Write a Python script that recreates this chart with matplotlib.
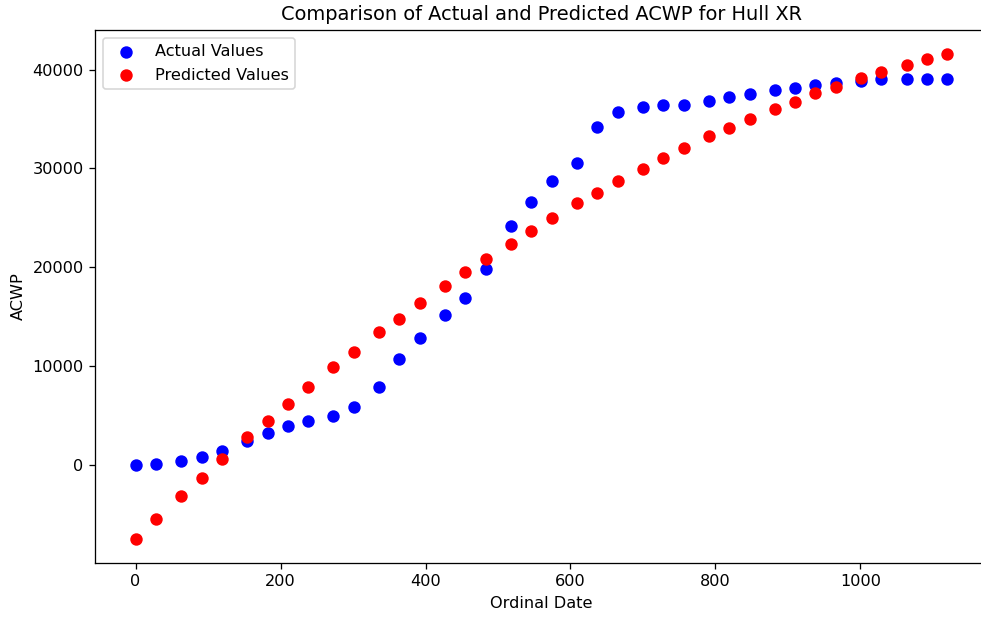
import numpy as np
import matplotlib
matplotlib.use("Agg")
import matplotlib.pyplot as plt

# ordinal dates (days from start)
dates = [0, 28, 63, 91, 119, 154, 182, 210, 238, 273, 301, 336, 364, 392, 427, 455,
         483, 518, 546, 574, 609, 637, 665, 700, 728, 756, 791, 819, 847, 882, 910,
         938, 966, 1001, 1029, 1064, 1092, 1120]

actual = [0, 100, 345, 780, 1390, 2400, 3240, 3920, 4390, 4960, 5810, 7900, 10730,
          12800, 15130, 16880, 19820, 24140, 26600, 28730, 30590, 34170, 35690, 36190,
          36430, 36430, 36860, 37240, 37510, 37910, 38150, 38450, 38680, 38830, 39060,
          39060, 39060, 39060]

predicted = [-7520, -5530, -3200, -1350, 550, 2770, 4390, 6150, 7840, 9920, 11410,
             13410, 14780, 16340, 18070, 19480, 20800, 22380, 23670, 24980, 26470,
             27510, 28700, 29940, 31060, 32070, 33260, 34070, 35010, 36020, 36760,
             37610, 38280, 39130, 39800, 40510, 41080, 41560]

DPI = 116
fig = plt.figure(figsize=(981/DPI, 617/DPI), dpi=DPI)
ax = fig.add_axes([95/981, 54/617, 893/981, 533/617])

ax.scatter(dates, actual, color='blue', s=45, label='Actual Values')
ax.scatter(dates, predicted, color='red', s=45, label='Predicted Values')

ax.set_title('Comparison of Actual and Predicted ACWP for Hull XR')
ax.set_xlabel('Ordinal Date')
ax.set_ylabel('ACWP')
ax.legend(loc='upper left')

fig.savefig('out.png', dpi=DPI)
